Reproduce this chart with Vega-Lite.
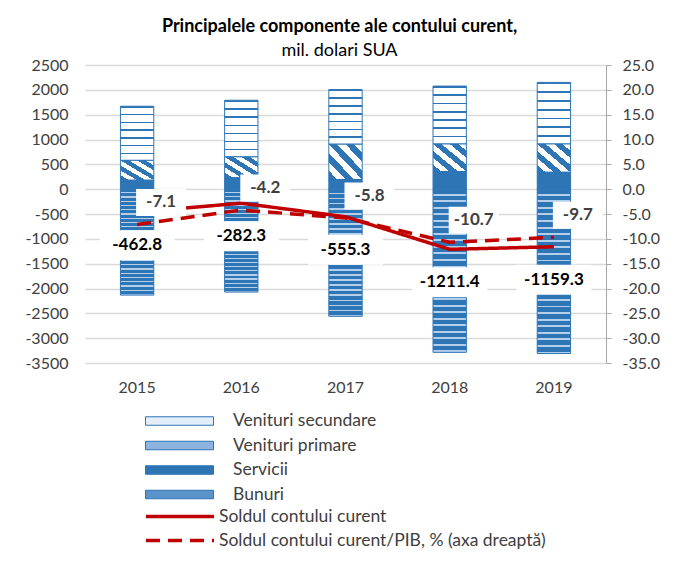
{
  "$schema": "https://vega.github.io/schema/vega-lite/v6.json",
  "width": 521,
  "height": 298,
  "autosize": {"type": "none"},
  "padding": {"left": 85, "top": 65, "right": 72, "bottom": 202},
  "background": "white",
  "config": {
    "font": "Lato",
    "view": {"stroke": null},
    "locale": {"number": {"decimal": ".", "thousands": ",", "grouping": [3], "currency": ["$", ""], "minus": "-"}},
    "axis": {"labelFont": "Lato", "labelFontSize": 16, "labelColor": "#404040", "labelOverlap": false}
  },
  "title": {
    "text": "Principalele componente ale contului curent,",
    "subtitle": "mil. dolari SUA",
    "anchor": "middle",
    "font": "Lato",
    "fontSize": 18,
    "fontWeight": "bold",
    "color": "#000000",
    "subtitleFont": "Lato",
    "subtitleFontSize": 18,
    "subtitleColor": "#000000",
    "subtitlePadding": 6,
    "offset": -3,
    "dx": -6
  },
  "datasets": {
    "comp": [
      {"an": "2015", "comp": "Venituri secundare", "val": 1090},
      {"an": "2015", "comp": "Venituri primare", "val": 400},
      {"an": "2015", "comp": "Servicii", "val": 180},
      {"an": "2015", "comp": "Bunuri", "val": -2133},
      {"an": "2016", "comp": "Venituri secundare", "val": 1140},
      {"an": "2016", "comp": "Venituri primare", "val": 420},
      {"an": "2016", "comp": "Servicii", "val": 230},
      {"an": "2016", "comp": "Bunuri", "val": -2072},
      {"an": "2017", "comp": "Venituri secundare", "val": 1100},
      {"an": "2017", "comp": "Venituri primare", "val": 710},
      {"an": "2017", "comp": "Servicii", "val": 195},
      {"an": "2017", "comp": "Bunuri", "val": -2560},
      {"an": "2018", "comp": "Venituri secundare", "val": 1165},
      {"an": "2018", "comp": "Venituri primare", "val": 555},
      {"an": "2018", "comp": "Servicii", "val": 355},
      {"an": "2018", "comp": "Bunuri", "val": -3286},
      {"an": "2019", "comp": "Venituri secundare", "val": 1240},
      {"an": "2019", "comp": "Venituri primare", "val": 570},
      {"an": "2019", "comp": "Servicii", "val": 340},
      {"an": "2019", "comp": "Bunuri", "val": -3309}
    ],
    "sold": [
      {"an": "2015", "sold": -462.8, "pct": -7.1},
      {"an": "2016", "sold": -282.3, "pct": -4.2},
      {"an": "2017", "sold": -555.3, "pct": -5.8},
      {"an": "2018", "sold": -1211.4, "pct": -10.7},
      {"an": "2019", "sold": -1159.3, "pct": -9.7}
    ]
  },
  "encoding": {
    "x": {
      "field": "an",
      "type": "ordinal",
      "scale": {"paddingInner": 0.68, "paddingOuter": 0.34},
      "axis": {"labelAngle": 0, "domain": false, "ticks": false, "labelPadding": 16, "title": null, "grid": false}
    }
  },
  "layer": [
    {
      "layer": [
        {
          "data": {"name": "comp"},
          "mark": {"type": "bar", "stroke": "#2E75B6", "strokeWidth": 1},
          "encoding": {
            "y": {
              "field": "val",
              "type": "quantitative",
              "stack": "zero",
              "scale": {"domain": [-3500, 2500], "nice": false, "zero": false},
              "axis": {
                "orient": "left",
                "values": [-3500, -3000, -2500, -2000, -1500, -1000, -500, 0, 500, 1000, 1500, 2000, 2500],
                "tickCount": 20,
                "format": "d",
                "domain": false,
                "ticks": false,
                "labelPadding": 17,
                "labelOverlap": false,
                "grid": true,
                "gridColor": "#D9D9D9",
                "gridWidth": 1.3,
                "title": null
              }
            },
            "order": {"field": "comp", "sort": "ascending"},
            "fill": {
              "condition": [
                {"test": "datum.comp === 'Venituri secundare'", "value": {"gradient": "linear", "x1": 0, "y1": 0, "x2": 0, "y2": 1, "stops": [
                    {"offset": 0, "color": "#2E75B6"}, {"offset": 0.028, "color": "#2E75B6"}, {"offset": 0.028, "color": "#FFFFFF"}, {"offset": 0.1429, "color": "#FFFFFF"},
                    {"offset": 0.1429, "color": "#2E75B6"}, {"offset": 0.171, "color": "#2E75B6"}, {"offset": 0.171, "color": "#FFFFFF"}, {"offset": 0.2857, "color": "#FFFFFF"},
                    {"offset": 0.2857, "color": "#2E75B6"}, {"offset": 0.314, "color": "#2E75B6"}, {"offset": 0.314, "color": "#FFFFFF"}, {"offset": 0.4286, "color": "#FFFFFF"},
                    {"offset": 0.4286, "color": "#2E75B6"}, {"offset": 0.457, "color": "#2E75B6"}, {"offset": 0.457, "color": "#FFFFFF"}, {"offset": 0.5714, "color": "#FFFFFF"},
                    {"offset": 0.5714, "color": "#2E75B6"}, {"offset": 0.6, "color": "#2E75B6"}, {"offset": 0.6, "color": "#FFFFFF"}, {"offset": 0.7143, "color": "#FFFFFF"},
                    {"offset": 0.7143, "color": "#2E75B6"}, {"offset": 0.743, "color": "#2E75B6"}, {"offset": 0.743, "color": "#FFFFFF"}, {"offset": 0.8571, "color": "#FFFFFF"},
                    {"offset": 0.8571, "color": "#2E75B6"}, {"offset": 0.886, "color": "#2E75B6"}, {"offset": 0.886, "color": "#FFFFFF"}, {"offset": 1, "color": "#FFFFFF"}
                  ]}},
                {"test": "datum.comp === 'Venituri primare'", "value": {"gradient": "linear", "x1": 0, "y1": 1, "x2": 1, "y2": 0, "stops": [
                    {"offset": 0, "color": "#2E75B6"}, {"offset": 0.125, "color": "#2E75B6"}, {"offset": 0.125, "color": "#FFFFFF"}, {"offset": 0.25, "color": "#FFFFFF"},
                    {"offset": 0.25, "color": "#2E75B6"}, {"offset": 0.375, "color": "#2E75B6"}, {"offset": 0.375, "color": "#FFFFFF"}, {"offset": 0.5, "color": "#FFFFFF"},
                    {"offset": 0.5, "color": "#2E75B6"}, {"offset": 0.625, "color": "#2E75B6"}, {"offset": 0.625, "color": "#FFFFFF"}, {"offset": 0.75, "color": "#FFFFFF"},
                    {"offset": 0.75, "color": "#2E75B6"}, {"offset": 0.875, "color": "#2E75B6"}, {"offset": 0.875, "color": "#FFFFFF"}, {"offset": 1, "color": "#FFFFFF"}
                  ]}},
                {"test": "datum.comp === 'Bunuri'", "value": {"gradient": "linear", "x1": 0, "y1": 0, "x2": 0, "y2": 1, "stops": [
                    {"offset": 0, "color": "#2E75B6"}, {"offset": 0.028, "color": "#2E75B6"}, {"offset": 0.028, "color": "#B4CFEC"}, {"offset": 0.04, "color": "#B4CFEC"},
                    {"offset": 0.04, "color": "#2E75B6"}, {"offset": 0.068, "color": "#2E75B6"}, {"offset": 0.068, "color": "#B4CFEC"}, {"offset": 0.08, "color": "#B4CFEC"},
                    {"offset": 0.08, "color": "#2E75B6"}, {"offset": 0.108, "color": "#2E75B6"}, {"offset": 0.108, "color": "#B4CFEC"}, {"offset": 0.12, "color": "#B4CFEC"},
                    {"offset": 0.12, "color": "#2E75B6"}, {"offset": 0.148, "color": "#2E75B6"}, {"offset": 0.148, "color": "#B4CFEC"}, {"offset": 0.16, "color": "#B4CFEC"},
                    {"offset": 0.16, "color": "#2E75B6"}, {"offset": 0.188, "color": "#2E75B6"}, {"offset": 0.188, "color": "#B4CFEC"}, {"offset": 0.2, "color": "#B4CFEC"},
                    {"offset": 0.2, "color": "#2E75B6"}, {"offset": 0.228, "color": "#2E75B6"}, {"offset": 0.228, "color": "#B4CFEC"}, {"offset": 0.24, "color": "#B4CFEC"},
                    {"offset": 0.24, "color": "#2E75B6"}, {"offset": 0.268, "color": "#2E75B6"}, {"offset": 0.268, "color": "#B4CFEC"}, {"offset": 0.28, "color": "#B4CFEC"},
                    {"offset": 0.28, "color": "#2E75B6"}, {"offset": 0.308, "color": "#2E75B6"}, {"offset": 0.308, "color": "#B4CFEC"}, {"offset": 0.32, "color": "#B4CFEC"},
                    {"offset": 0.32, "color": "#2E75B6"}, {"offset": 0.348, "color": "#2E75B6"}, {"offset": 0.348, "color": "#B4CFEC"}, {"offset": 0.36, "color": "#B4CFEC"},
                    {"offset": 0.36, "color": "#2E75B6"}, {"offset": 0.388, "color": "#2E75B6"}, {"offset": 0.388, "color": "#B4CFEC"}, {"offset": 0.4, "color": "#B4CFEC"},
                    {"offset": 0.4, "color": "#2E75B6"}, {"offset": 0.428, "color": "#2E75B6"}, {"offset": 0.428, "color": "#B4CFEC"}, {"offset": 0.44, "color": "#B4CFEC"},
                    {"offset": 0.44, "color": "#2E75B6"}, {"offset": 0.468, "color": "#2E75B6"}, {"offset": 0.468, "color": "#B4CFEC"}, {"offset": 0.48, "color": "#B4CFEC"},
                    {"offset": 0.48, "color": "#2E75B6"}, {"offset": 0.508, "color": "#2E75B6"}, {"offset": 0.508, "color": "#B4CFEC"}, {"offset": 0.52, "color": "#B4CFEC"},
                    {"offset": 0.52, "color": "#2E75B6"}, {"offset": 0.548, "color": "#2E75B6"}, {"offset": 0.548, "color": "#B4CFEC"}, {"offset": 0.56, "color": "#B4CFEC"},
                    {"offset": 0.56, "color": "#2E75B6"}, {"offset": 0.588, "color": "#2E75B6"}, {"offset": 0.588, "color": "#B4CFEC"}, {"offset": 0.6, "color": "#B4CFEC"},
                    {"offset": 0.6, "color": "#2E75B6"}, {"offset": 0.628, "color": "#2E75B6"}, {"offset": 0.628, "color": "#B4CFEC"}, {"offset": 0.64, "color": "#B4CFEC"},
                    {"offset": 0.64, "color": "#2E75B6"}, {"offset": 0.668, "color": "#2E75B6"}, {"offset": 0.668, "color": "#B4CFEC"}, {"offset": 0.68, "color": "#B4CFEC"},
                    {"offset": 0.68, "color": "#2E75B6"}, {"offset": 0.708, "color": "#2E75B6"}, {"offset": 0.708, "color": "#B4CFEC"}, {"offset": 0.72, "color": "#B4CFEC"},
                    {"offset": 0.72, "color": "#2E75B6"}, {"offset": 0.748, "color": "#2E75B6"}, {"offset": 0.748, "color": "#B4CFEC"}, {"offset": 0.76, "color": "#B4CFEC"},
                    {"offset": 0.76, "color": "#2E75B6"}, {"offset": 0.788, "color": "#2E75B6"}, {"offset": 0.788, "color": "#B4CFEC"}, {"offset": 0.8, "color": "#B4CFEC"},
                    {"offset": 0.8, "color": "#2E75B6"}, {"offset": 0.828, "color": "#2E75B6"}, {"offset": 0.828, "color": "#B4CFEC"}, {"offset": 0.84, "color": "#B4CFEC"},
                    {"offset": 0.84, "color": "#2E75B6"}, {"offset": 0.868, "color": "#2E75B6"}, {"offset": 0.868, "color": "#B4CFEC"}, {"offset": 0.88, "color": "#B4CFEC"},
                    {"offset": 0.88, "color": "#2E75B6"}, {"offset": 0.908, "color": "#2E75B6"}, {"offset": 0.908, "color": "#B4CFEC"}, {"offset": 0.92, "color": "#B4CFEC"},
                    {"offset": 0.92, "color": "#2E75B6"}, {"offset": 0.948, "color": "#2E75B6"}, {"offset": 0.948, "color": "#B4CFEC"}, {"offset": 0.96, "color": "#B4CFEC"},
                    {"offset": 0.96, "color": "#2E75B6"}, {"offset": 0.988, "color": "#2E75B6"}, {"offset": 0.988, "color": "#B4CFEC"}, {"offset": 1, "color": "#B4CFEC"}
                  ]}}
              ],
              "field": "comp",
              "type": "nominal",
              "scale": {
                "domain": ["Venituri secundare", "Venituri primare", "Servicii", "Bunuri"],
                "range": ["#E4EEF8", "#8DB4E0", "#2E75B6", "#5A93CA"]
              },
              "legend": {
                "orient": "none",
                "legendX": 60,
                "legendY": 347,
                "title": null,
                "direction": "vertical",
                "symbolType": "M-1,-0.5H7V0.5H-1Z",
                "symbolSize": 289,
                "symbolStrokeColor": "#2E75B6",
                "symbolStrokeWidth": 1,
                "labelOffset": 70,
                "labelFont": "Lato",
                "labelFontSize": 17.5,
                "labelColor": "#404040",
                "labelLimit": 0,
                "rowPadding": 6.5
              }
            }
          }
        },
        {
          "data": {"name": "sold"},
          "mark": {"type": "point", "shape": "M-1,-0.4H1V0.4H-1Z", "size": 5625, "filled": true, "fill": "white", "strokeWidth": 0, "opacity": 1, "yOffset": 33},
          "encoding": {
            "y": {"field": "sold", "type": "quantitative"}
          }
        },
        {
          "data": {"name": "sold"},
          "mark": {"type": "line", "stroke": "#C00000", "strokeWidth": 3.5},
          "encoding": {
            "y": {"field": "sold", "type": "quantitative"},
            "strokeDash": {
              "datum": "Soldul contului curent",
              "type": "nominal",
              "scale": {
                "domain": ["Soldul contului curent", "Soldul contului curent/PIB, % (axa dreaptă)"],
                "range": [[1, 0], [14, 8]]
              },
              "legend": {
                "orient": "none",
                "legendX": 59,
                "legendY": 441,
                "title": null,
                "direction": "vertical",
                "symbolType": "M-1,0H7",
                "symbolSize": 289,
                "symbolStrokeColor": "#C00000",
                "symbolStrokeWidth": 3.5,
                "labelOffset": 54,
                "labelFont": "Lato",
                "labelFontSize": 17.5,
                "labelColor": "#404040",
                "labelLimit": 0,
                "rowPadding": 5
              }
            }
          }
        },
        {
          "data": {"name": "sold"},
          "mark": {"type": "text", "font": "Lato", "fontSize": 17, "fontWeight": "bold", "color": "#000000", "dy": 33, "baseline": "middle"},
          "encoding": {
            "y": {"field": "sold", "type": "quantitative"},
            "text": {"field": "sold", "type": "quantitative", "format": ".1f"}
          }
        }
      ]
    },
    {
      "layer": [
        {
          "data": {"name": "sold"},
          "mark": {"type": "point", "shape": "M-1,-0.54H1V0.54H-1Z", "size": 2500, "filled": true, "fill": "white", "strokeWidth": 0, "opacity": 1, "xOffset": 24, "yOffset": -22},
          "encoding": {
            "y": {
              "field": "pct",
              "type": "quantitative",
              "scale": {"domain": [-35, 25], "nice": false, "zero": false},
              "axis": {
                "orient": "right",
                "values": [-35, -30, -25, -20, -15, -10, -5, 0, 5, 10, 15, 20, 25],
                "tickCount": 20,
                "format": ".1f",
                "domain": true,
                "domainColor": "#A6A6A6",
                "ticks": true,
                "tickColor": "#A6A6A6",
                "tickSize": 5,
                "labelPadding": 11,
                "labelOverlap": false,
                "grid": false,
                "title": null
              }
            }
          }
        },
        {
          "data": {"name": "sold"},
          "mark": {"type": "line", "stroke": "#C00000", "strokeWidth": 3.5},
          "encoding": {
            "y": {"field": "pct", "type": "quantitative"},
            "strokeDash": {"datum": "Soldul contului curent/PIB, % (axa dreaptă)", "type": "nominal"}
          }
        },
        {
          "data": {"name": "sold"},
          "mark": {"type": "text", "font": "Lato", "fontSize": 17, "fontWeight": "bold", "color": "#404040", "dx": 24, "dy": -22, "baseline": "middle"},
          "encoding": {
            "y": {"field": "pct", "type": "quantitative"},
            "text": {"field": "pct", "type": "quantitative", "format": ".1f"}
          }
        }
      ]
    }
  ],
  "resolve": {"scale": {"y": "independent"}}
}
